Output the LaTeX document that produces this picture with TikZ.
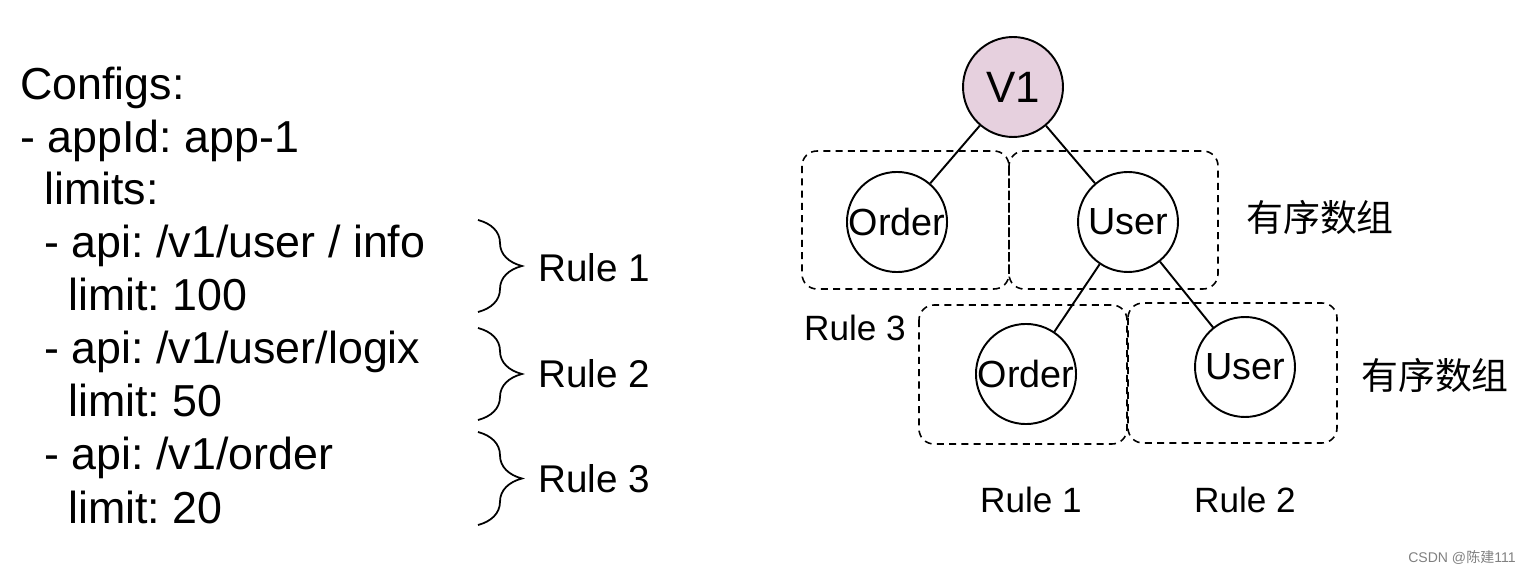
\documentclass[tikz,border=0pt]{standalone}
\usepackage{fontspec}
\setmainfont{Liberation Sans}
\newfontfamily\cjk{Noto Sans CJK SC}
\usetikzlibrary{decorations.pathreplacing}
\definecolor{vonefill}{HTML}{E6D0DE}
\frenchspacing

\begin{document}
\begin{tikzpicture}[x=0.02cm, y=-0.02cm,
    cfgline/.style={anchor=base west, inner sep=0, font=\fontsize{25.5}{30}\selectfont},
    treenode/.style={circle, draw, line width=1.1pt, minimum size=2cm, inner sep=0, font=\fontsize{21.5}{24}\selectfont},
    group/.style={draw, dash pattern=on 4pt off 3pt, line width=0.9pt, rounded corners=0.3cm},
    rulebrace/.style={decorate, decoration={brace, amplitude=0.88cm}, line width=1pt},
    rulelabel/.style={anchor=west, inner sep=0, font=\fontsize{22}{26}\selectfont},
    tag/.style={inner sep=0, font=\fontsize{20}{24}\selectfont},
    arraytag/.style={inner sep=0, font=\cjk\fontsize{21}{25}\selectfont}]
   \useasboundingbox (0,0) rectangle (1532,577);
   % config text
   \node[cfgline] (cfg)   at (20,100)  {Configs:};
   \node[cfgline] (app)   at (20,153)  {- appId: app-1};
   \node[cfgline] (lims)  at (44,205)  {limits:};
   \node[cfgline] (api1)  at (44,258)  {- api: /v1/user / info};
   \node[cfgline] (lim1)  at (68,311)  {limit: 100};
   \node[cfgline] (api2)  at (44,364)  {- api: /v1/user/logix};
   \node[cfgline] (lim2)  at (68,417)  {limit: 50};
   \node[cfgline] (api3)  at (44,470)  {- api: /v1/order};
   \node[cfgline] (lim3)  at (68,523)  {limit: 20};
   % braces
   \draw[rulebrace] (478,220) -- (478,312);
   \draw[rulebrace] (478,328) -- (478,420);
   \draw[rulebrace] (478,432) -- (478,525);
   \node[rulelabel] (rone)   at (538,268) {Rule 1};
   \node[rulelabel] (rtwo)   at (538,374) {Rule 2};
   \node[rulelabel] (rthree) at (538,479) {Rule 3};
   % tree
   \draw[group] (802,151) rectangle (1009,289);
   \draw[group] (1009,151) rectangle (1218,289);
   \draw[group] (919,305) rectangle (1127,444);
   \draw[group] (1128,303) rectangle (1337,443);
   \node[treenode, fill=vonefill, font=\fontsize{25}{28}\selectfont] (v1) at (1013,87) {V1};
   \node[treenode] (ord1) at (897,222) {Order};
   \node[treenode] (usr1) at (1128,222) {User};
   \node[treenode] (ord2) at (1026,374) {Order};
   \node[treenode] (usr2) at (1245,367) {User};
   \draw[line width=1.1pt] (v1) -- (ord1);
   \draw[line width=1.1pt] (v1) -- (usr1);
   \draw[line width=1.1pt] (usr1) -- (ord2);
   \draw[line width=1.1pt] (usr1) -- (usr2);
   \node[tag] (t3) at (855,328) {Rule 3};
   \node[tag] (t1) at (1031,500) {Rule 1};
   \node[tag] (t2) at (1245,500) {Rule 2};
   \node[arraytag] (arr1) at (1320,217) {有序数组};
   \node[arraytag] (arr2) at (1435,375) {有序数组};
   \node[inner sep=0, text=gray, font=\fontsize{8}{10}\selectfont] (mark) at (1462,558) {CSDN @{\cjk 陈建}111};
\end{tikzpicture}
\end{document}
